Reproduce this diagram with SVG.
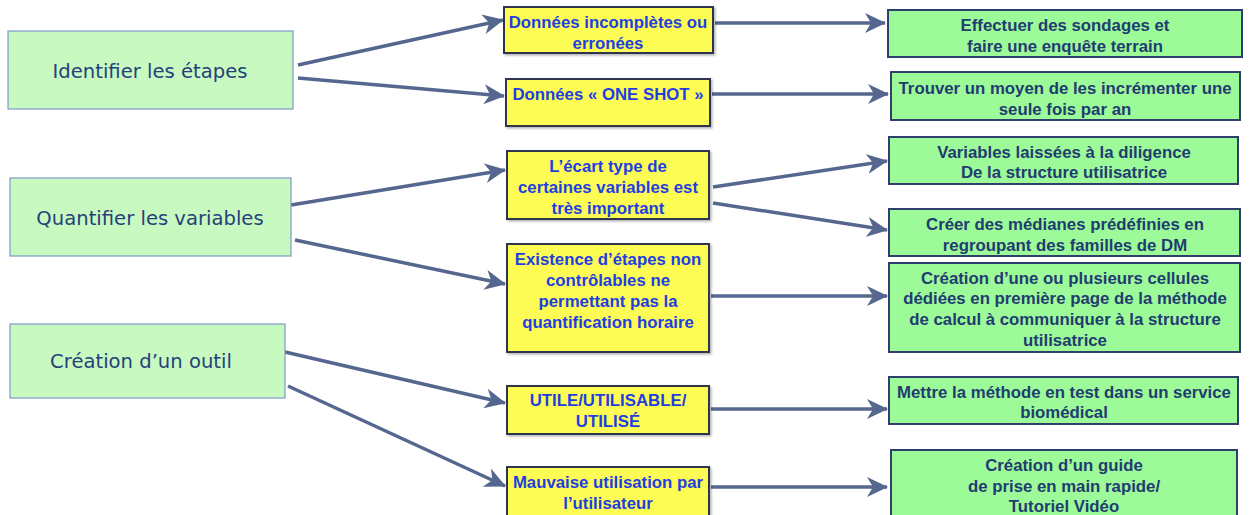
<svg xmlns="http://www.w3.org/2000/svg" width="1249" height="515" viewBox="0 0 1249 515">
<style>
.l rect{fill:#c8f9c0;stroke:#7f98c8;stroke-width:1.2}
.l text{font-family:"DejaVu Sans",Verdana,sans-serif;font-size:19.6px;fill:#26417a;text-anchor:middle}
.y rect{fill:#fdfc54;stroke:#2e3550;stroke-width:2}
.y text{font-family:"Liberation Sans",Arial,sans-serif;font-weight:bold;font-size:16.8px;fill:#1f3ee0;text-anchor:middle}
.g rect{fill:#9dfa98;stroke:#2e3f6e;stroke-width:2}
.g text{font-family:"Liberation Sans",Arial,sans-serif;font-weight:bold;font-size:16.8px;fill:#213c70;text-anchor:middle}
#connectors line{stroke:#56678f;stroke-width:3.5;marker-end:url(#ah)}
</style>
<defs>
<marker id="ah" markerUnits="userSpaceOnUse" markerWidth="22" markerHeight="22" refX="20" refY="10" orient="auto" viewBox="0 0 22 20">
<path d="M0,0 L21,10 L0,20 L6,10 Z" fill="#56678f"/>
</marker>
<filter id="sh" x="-5%" y="-10%" width="115%" height="130%"><feDropShadow dx="1.5" dy="1.5" stdDeviation="1.2" flood-color="#000" flood-opacity="0.3"/></filter>
</defs>
<rect width="1249" height="515" fill="#fff"/>

<g id="connectors">
<line x1="298" y1="65" x2="503" y2="20"/>
<line x1="298" y1="78" x2="504" y2="96"/>
<line x1="715" y1="23" x2="885" y2="23"/>
<line x1="712" y1="94" x2="888" y2="94"/>
<line x1="291" y1="205" x2="505" y2="170"/>
<line x1="295" y1="240" x2="505" y2="284"/>
<line x1="713" y1="187" x2="887" y2="161"/>
<line x1="713" y1="203" x2="887" y2="230"/>
<line x1="711" y1="296" x2="887" y2="296"/>
<line x1="285" y1="352" x2="505" y2="403"/>
<line x1="288" y1="386" x2="505" y2="486"/>
<line x1="711" y1="409" x2="887" y2="409"/>
<line x1="711" y1="487" x2="887" y2="487"/>
</g>

<g id="n-identifier" class="l"><rect x="8" y="31" width="285" height="78"/><text x="150" y="78">Identifier les étapes</text></g>
<g id="n-quantifier" class="l"><rect x="10" y="178" width="281" height="78"/><text x="150" y="225">Quantifier les variables</text></g>
<g id="n-outil" class="l"><rect x="10" y="324" width="275" height="74"/><text x="141" y="368">Création d’un outil</text></g>

<g id="n-donnees" class="y"><rect x="504" y="7" width="209" height="46" filter="url(#sh)"/><text x="608" y="28">Données incomplètes ou</text><text x="608" y="49">erronées</text></g>
<g id="n-oneshot" class="y"><rect x="506" y="79" width="204" height="47" filter="url(#sh)"/><text x="608" y="100">Données « ONE SHOT »</text></g>
<g id="n-ecart" class="y"><rect x="507" y="151" width="202" height="68" filter="url(#sh)"/><text x="608" y="172">L’écart type de</text><text x="608" y="193">certaines variables est</text><text x="608" y="214">très important</text></g>
<g id="n-existence" class="y"><rect x="507" y="244" width="202" height="108" filter="url(#sh)"/><text x="608" y="265">Existence d’étapes non</text><text x="608" y="286">contrôlables ne</text><text x="608" y="307">permettant pas la</text><text x="608" y="328">quantification horaire</text></g>
<g id="n-utile" class="y"><rect x="507" y="386" width="202" height="48" filter="url(#sh)"/><text x="608" y="406">UTILE/UTILISABLE/</text><text x="608" y="427">UTILISÉ</text></g>
<g id="n-mauvaise" class="y"><rect x="507" y="467" width="202" height="52" filter="url(#sh)"/><text x="608" y="488">Mauvaise utilisation par</text><text x="608" y="509">l’utilisateur</text></g>

<g id="n-sondages" class="g"><rect x="888" y="10" width="354" height="47"/><text x="1065" y="31">Effectuer des sondages et</text><text x="1065" y="52">faire une enquête terrain</text></g>
<g id="n-trouver" class="g"><rect x="891" y="72" width="349" height="48"/><text x="1065" y="94">Trouver un moyen de les incrémenter une</text><text x="1065" y="115">seule fois par an</text></g>
<g id="n-diligence" class="g"><rect x="889" y="137" width="349" height="47"/><text x="1064" y="158">Variables laissées à la diligence</text><text x="1064" y="178">De la structure utilisatrice</text></g>
<g id="n-medianes" class="g"><rect x="889" y="209" width="351" height="47"/><text x="1065" y="230">Créer des médianes prédéfinies en</text><text x="1065" y="251">regroupant des familles de DM</text></g>
<g id="n-cellules" class="g"><rect x="889" y="263" width="351" height="89"/><text x="1065" y="284">Création d’une ou plusieurs cellules</text><text x="1065" y="304">dédiées en première page de la méthode</text><text x="1065" y="325">de calcul à communiquer à la structure</text><text x="1065" y="346">utilisatrice</text></g>
<g id="n-test" class="g"><rect x="889" y="377" width="349" height="47"/><text x="1064" y="398">Mettre la méthode en test dans un service</text><text x="1064" y="418">biomédical</text></g>
<g id="n-guide" class="g"><rect x="891" y="450" width="346" height="70"/><text x="1064" y="471">Création d’un guide</text><text x="1064" y="492">de prise en main rapide/</text><text x="1064" y="512">Tutoriel Vidéo</text></g>
</svg>
